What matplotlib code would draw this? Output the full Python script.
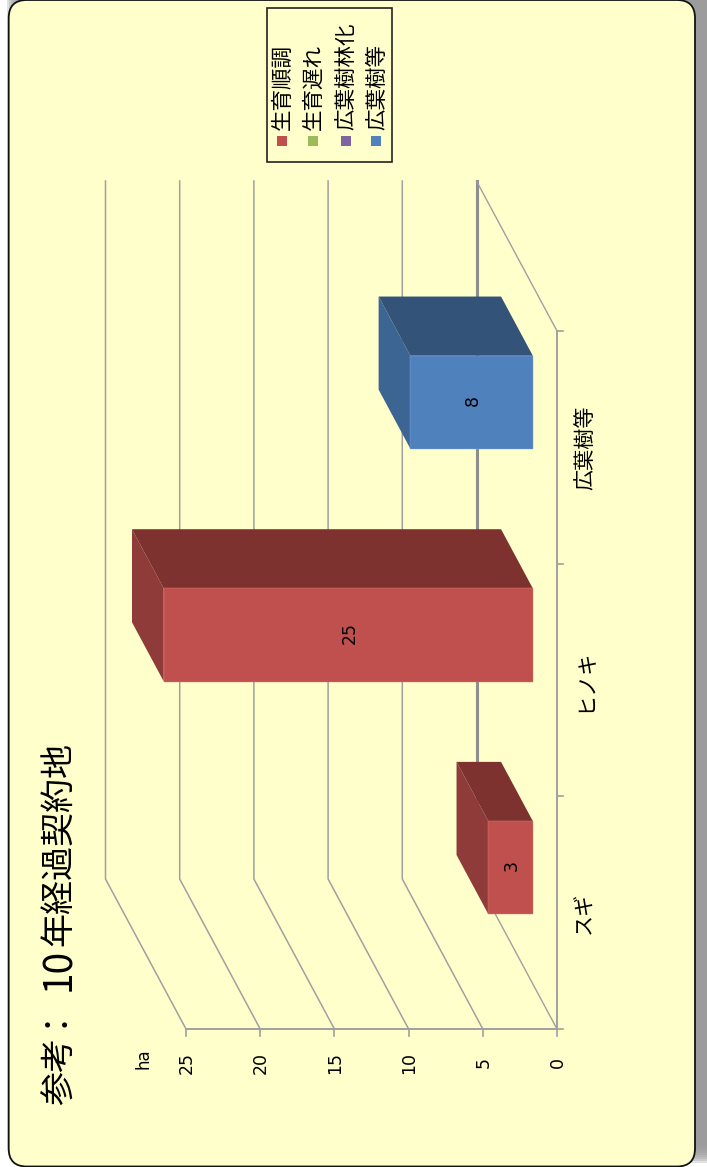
import matplotlib
matplotlib.use("Agg")
import matplotlib.pyplot as plt
from matplotlib.patches import FancyBboxPatch, Rectangle

plt.rcParams['font.family'] = ['Noto Sans CJK JP', 'DejaVu Sans']

# data
title_parts = ["参考", "：", "10", "年経過契約地"]
unit = "ha"
categories = ["スギ", "ヒノキ", "広葉樹等"]
values = [3, 24.87, 8.25]
bar_colors = ["#C0504D", "#C0504D", "#4F81BD"]
side_colors = ["#8E3B39", "#8E3B39", "#3D6594"]
upper_colors = ["#7D3230", "#7D3230", "#345379"]
edge_colors = ["#D6807A", "#D6807A", "#86A8D2"]
value_ticks = [0, 5, 10, 15, 20, 25]
legend_labels = ["生育順調", "生育遅れ", "広葉樹林化", "広葉樹等"]
legend_colors = ["#C0504D", "#9BBB59", "#8064A2", "#4F81BD"]

W, H = 707, 1167
fig = plt.figure(figsize=(W / 100, H / 100), dpi=100, facecolor="white")

# panel and its shadow, in pixels
bg = fig.add_axes([0, 0, 1, 1])
bg.set_xlim(0, W)
bg.set_ylim(H, 0)
bg.axis("off")
for grow in range(8, -9, -2):
    bg.add_patch(FancyBboxPatch((15 - grow, -30 - grow), 720 + 2 * grow, 1185 + 2 * grow,
                                boxstyle="round,pad=0,rounding_size=18", fc="#9C9C9C", ec="none", alpha=0.3))
bg.add_patch(Rectangle((20, -5), 700, 1150, fc="#9C9C9C", ec="none"))
bg.add_patch(FancyBboxPatch((8.7, 0), 686.3, 1166.5, boxstyle="round,pad=0,rounding_size=18",
                            fc="#FFFFCC", ec="#111111", lw=1.3))

# chart axes: x = value, y = category position, turned a quarter round
px_per_value = 14.84
px_per_cat = 232.67
ax = fig.add_axes([0, 0, 1, 1])
ax.patch.set_alpha(0)
ax.set_xlim(557 / px_per_value, (557 - W) / px_per_value)
ax.set_ylim((1029 - H) / px_per_cat, 1029 / px_per_cat)
ax.axis("off")

depth_x = 80.5 / px_per_value
depth_y = 150 / px_per_cat
n = len(categories)
grid = "#A0A0A0"
nudge_v = 1.5 / px_per_value
nudge_c = 2 / px_per_cat


def proj(v, c, d=0.0):
    return v + d * depth_x, c + d * depth_y


for v in value_ticks:
    xs, ys = zip(proj(v, 0), proj(v, 0, 1), proj(v, n, 1))
    if v == 0:
        ax.plot(xs[:2], ys[:2], color=grid, lw=1.0, zorder=1)
        ax.plot(xs[1:], ys[1:], color="#8E8E8E", lw=2.2, zorder=1)
    else:
        ax.plot(xs, ys, color=grid, lw=1.1, zorder=1)
    ax.plot([v, v], [0, -7 / px_per_cat], color=grid, lw=1.2, zorder=1)
    ax.text(v - nudge_v / 2, -36 / px_per_cat + nudge_c, str(v), rotation=90, ha="center", va="center",
            fontsize=12.5, family="DejaVu Sans", color="black")

ax.plot([0, value_ticks[-1]], [0, 0], color=grid, lw=1.4, zorder=1)
ax.plot([0, 0], [0, n], color=grid, lw=1.4, zorder=1)
xs, ys = zip(proj(0, n), proj(0, n, 1))
ax.plot(xs, ys, color=grid, lw=1.0, zorder=1)
for i in range(n + 1):
    ax.plot([0, -6 / px_per_value], [i, i], color=grid, lw=1.2, zorder=1)

ax.text(value_ticks[-1] + 2.85, -30 / px_per_cat, unit, rotation=90, ha="center", va="center",
        fontsize=12, family="DejaVu Sans", color="black")

# bars
bar_w = 0.4
d0, d1 = 0.3, 0.695
for i, val in enumerate(values):
    lo, hi = i + 0.5 - bar_w / 2, i + 0.5 + bar_w / 2
    side = [proj(val, lo, d0), proj(val, lo, d1), proj(val, hi, d1), proj(val, hi, d0)]
    upper = [proj(val, hi, d0), proj(val, hi, d1), proj(0, hi, d1), proj(0, hi, d0)]
    front = [proj(0, lo, d0), proj(val, lo, d0), proj(val, hi, d0), proj(0, hi, d0)]
    ax.fill(*zip(*side), color=side_colors[i], lw=0, zorder=3)
    ax.fill(*zip(*upper), color=upper_colors[i], lw=0, zorder=3)
    ax.fill(*zip(*front), fc=bar_colors[i], ec=edge_colors[i], lw=0.3, zorder=4)
    cx, cy = proj(val / 2, i + 0.5, d0)
    ax.text(cx - nudge_v, cy + nudge_c, f"{val:.0f}", rotation=90, ha="center", va="center",
            fontsize=12.5, family="DejaVu Sans", color="black", zorder=5)
    ax.text(-28 / px_per_value, i + 0.5, categories[i], rotation=90, ha="center", va="center",
            fontsize=15.2, color="black")

# title and legend, in pixels
ax_top = fig.add_axes([0, 0, 1, 1])
ax_top.patch.set_alpha(0)
ax_top.set_xlim(0, W)
ax_top.set_ylim(H, 0)
ax_top.axis("off")
ax_top.text(61, 1105, title_parts[0], rotation=90, ha="center", va="bottom", fontsize=24.5, color="black")
ax_top.text(55, 1027, title_parts[1], rotation=90, rotation_mode="anchor", ha="left", va="baseline",
            fontsize=24.5, color="black")
ax_top.text(59, 969, title_parts[2], rotation=90, ha="center", va="center", fontsize=28, color="black")
ax_top.text(59, 742, title_parts[3], rotation=90, ha="center", va="top", fontsize=24.5, color="black")

ax_top.add_patch(Rectangle((266.5, 8), 125.5, 154, fc="none", ec="#222222", lw=1.2))
legend_x = [282, 313, 345.5, 376]
for x, lab, col in zip(legend_x, legend_labels, legend_colors):
    ax_top.add_patch(Rectangle((x - 5, 136), 10, 10, fc=col, ec="none"))
    ax_top.text(x + 1, 130, lab, rotation=90, ha="center", va="bottom", fontsize=15.5, color="black")

fig.savefig("out.png", dpi=100)
